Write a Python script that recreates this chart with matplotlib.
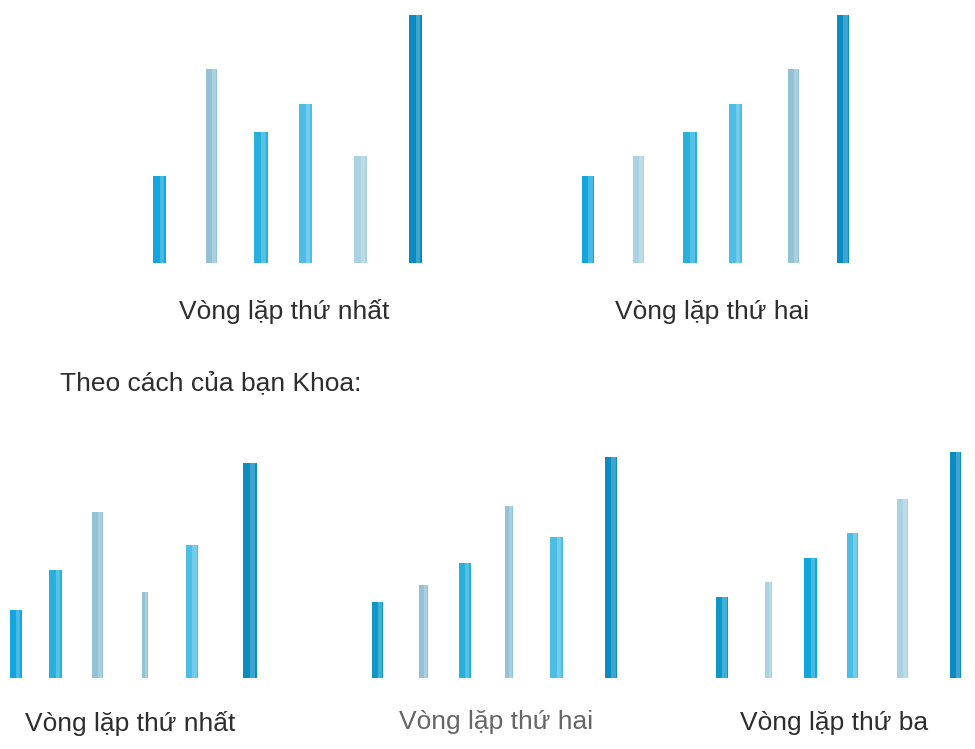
import matplotlib
matplotlib.use("Agg")
import matplotlib.pyplot as plt
from matplotlib.colors import to_rgb

# ---- data (bar heights, arbitrary units) ----
top_first = [87, 194, 131, 159, 107, 248]
top_second = [87, 107, 131, 159, 194, 248]
khoa_first = [68, 108, 166, 86, 133, 215]
khoa_second = [76, 93, 115, 172, 141, 221]
khoa_third = [81, 96, 120, 145, 179, 226]

label_first = "Vòng lặp thứ nhất"
label_second = "Vòng lặp thứ hai"
label_third = "Vòng lặp thứ ba"
heading = "Theo cách của bạn Khoa:"

# ---- styles / layout ----
W, H = 975, 749
VIVID = "#12a6dc"
PALE = "#93c2d6"
MID = "#27b0dc"
LIGHT = "#4cbde4"
PALE2 = "#a9d2e2"
DARK = "#0a8cc0"
DEEP = "#0d98c8"

panels = [
    # values, centers (px), widths (px), colors, baseline y(px), top y(px), xspan
    (top_first, [159.5, 211.5, 261, 305.5, 360.5, 415.5], [13, 11, 14, 13, 13, 13],
     [VIVID, PALE, MID, LIGHT, PALE2, DARK], 263, 5, (130, 450)),
    (top_second, [588, 638.5, 690, 735.5, 793.5, 843], [12, 11, 14, 13, 11, 12],
     [VIVID, PALE2, MID, LIGHT, PALE, DARK], 263, 5, (560, 880)),
    (khoa_first, [16, 55.5, 97.5, 145, 192, 250], [12, 13, 11, 6, 12, 14],
     [VIVID, MID, PALE, PALE, LIGHT, DARK], 678, 430, (0, 330)),
    (khoa_second, [377.5, 423.5, 465, 509, 556.5, 611], [11, 9, 12, 8, 13, 12],
     [DEEP, PALE, MID, PALE, LIGHT, DARK], 678, 430, (345, 660)),
    (khoa_third, [722, 768.5, 810.5, 852.5, 902.5, 955.5], [12, 7, 13, 11, 11, 11],
     [DEEP, PALE2, VIVID, LIGHT, PALE2, DARK], 678, 430, (690, 975)),
]

plt.rcParams['font.family'] = ['Liberation Sans', 'DejaVu Sans']
fig = plt.figure(figsize=(W / 100, H / 100), dpi=100)
fig.patch.set_facecolor("white")


def lighten(c, f):
    r, g, b = to_rgb(c)
    return (r + (1 - r) * f, g + (1 - g) * f, b + (1 - b) * f)


for vals, xs, ws, cols, base, top, (x0, x1) in panels:
    ax = fig.add_axes([x0 / W, 1 - base / H, (x1 - x0) / W, (base - top) / H])
    ax.set_xlim(x0, x1)
    ax.set_ylim(0, base - top)
    ax.axis("off")
    ax.bar(xs, vals, width=ws, color=cols, edgecolor="none")
    # subtle highlight on the right part of each bar
    hl_x = [x + w * 0.2 for x, w in zip(xs, ws)]
    hl_w = [w * 0.35 for w in ws]
    ax.bar(hl_x, vals, width=hl_w, color=[lighten(c, 0.22) for c in cols],
           edgecolor="none")

# ---- texts ----
fs = 19
fig.text(284 / W, 1 - 312 / H, label_first, ha="center", va="center",
         fontsize=fs, color="#2e2e2e")
fig.text(712 / W, 1 - 312 / H, label_second, ha="center", va="center",
         fontsize=fs, color="#2e2e2e")
fig.text(60 / W, 1 - 383 / H, heading, ha="left", va="center",
         fontsize=fs, color="#2e2e2e")
fig.text(130 / W, 1 - 723 / H, label_first, ha="center", va="center",
         fontsize=fs, color="#2e2e2e")
fig.text(496 / W, 1 - 722 / H, label_second, ha="center", va="center",
         fontsize=fs, color="#666666")
fig.text(834 / W, 1 - 723 / H, label_third, ha="center", va="center",
         fontsize=fs, color="#2e2e2e")

fig.savefig("out.png", dpi=100, facecolor="white")
